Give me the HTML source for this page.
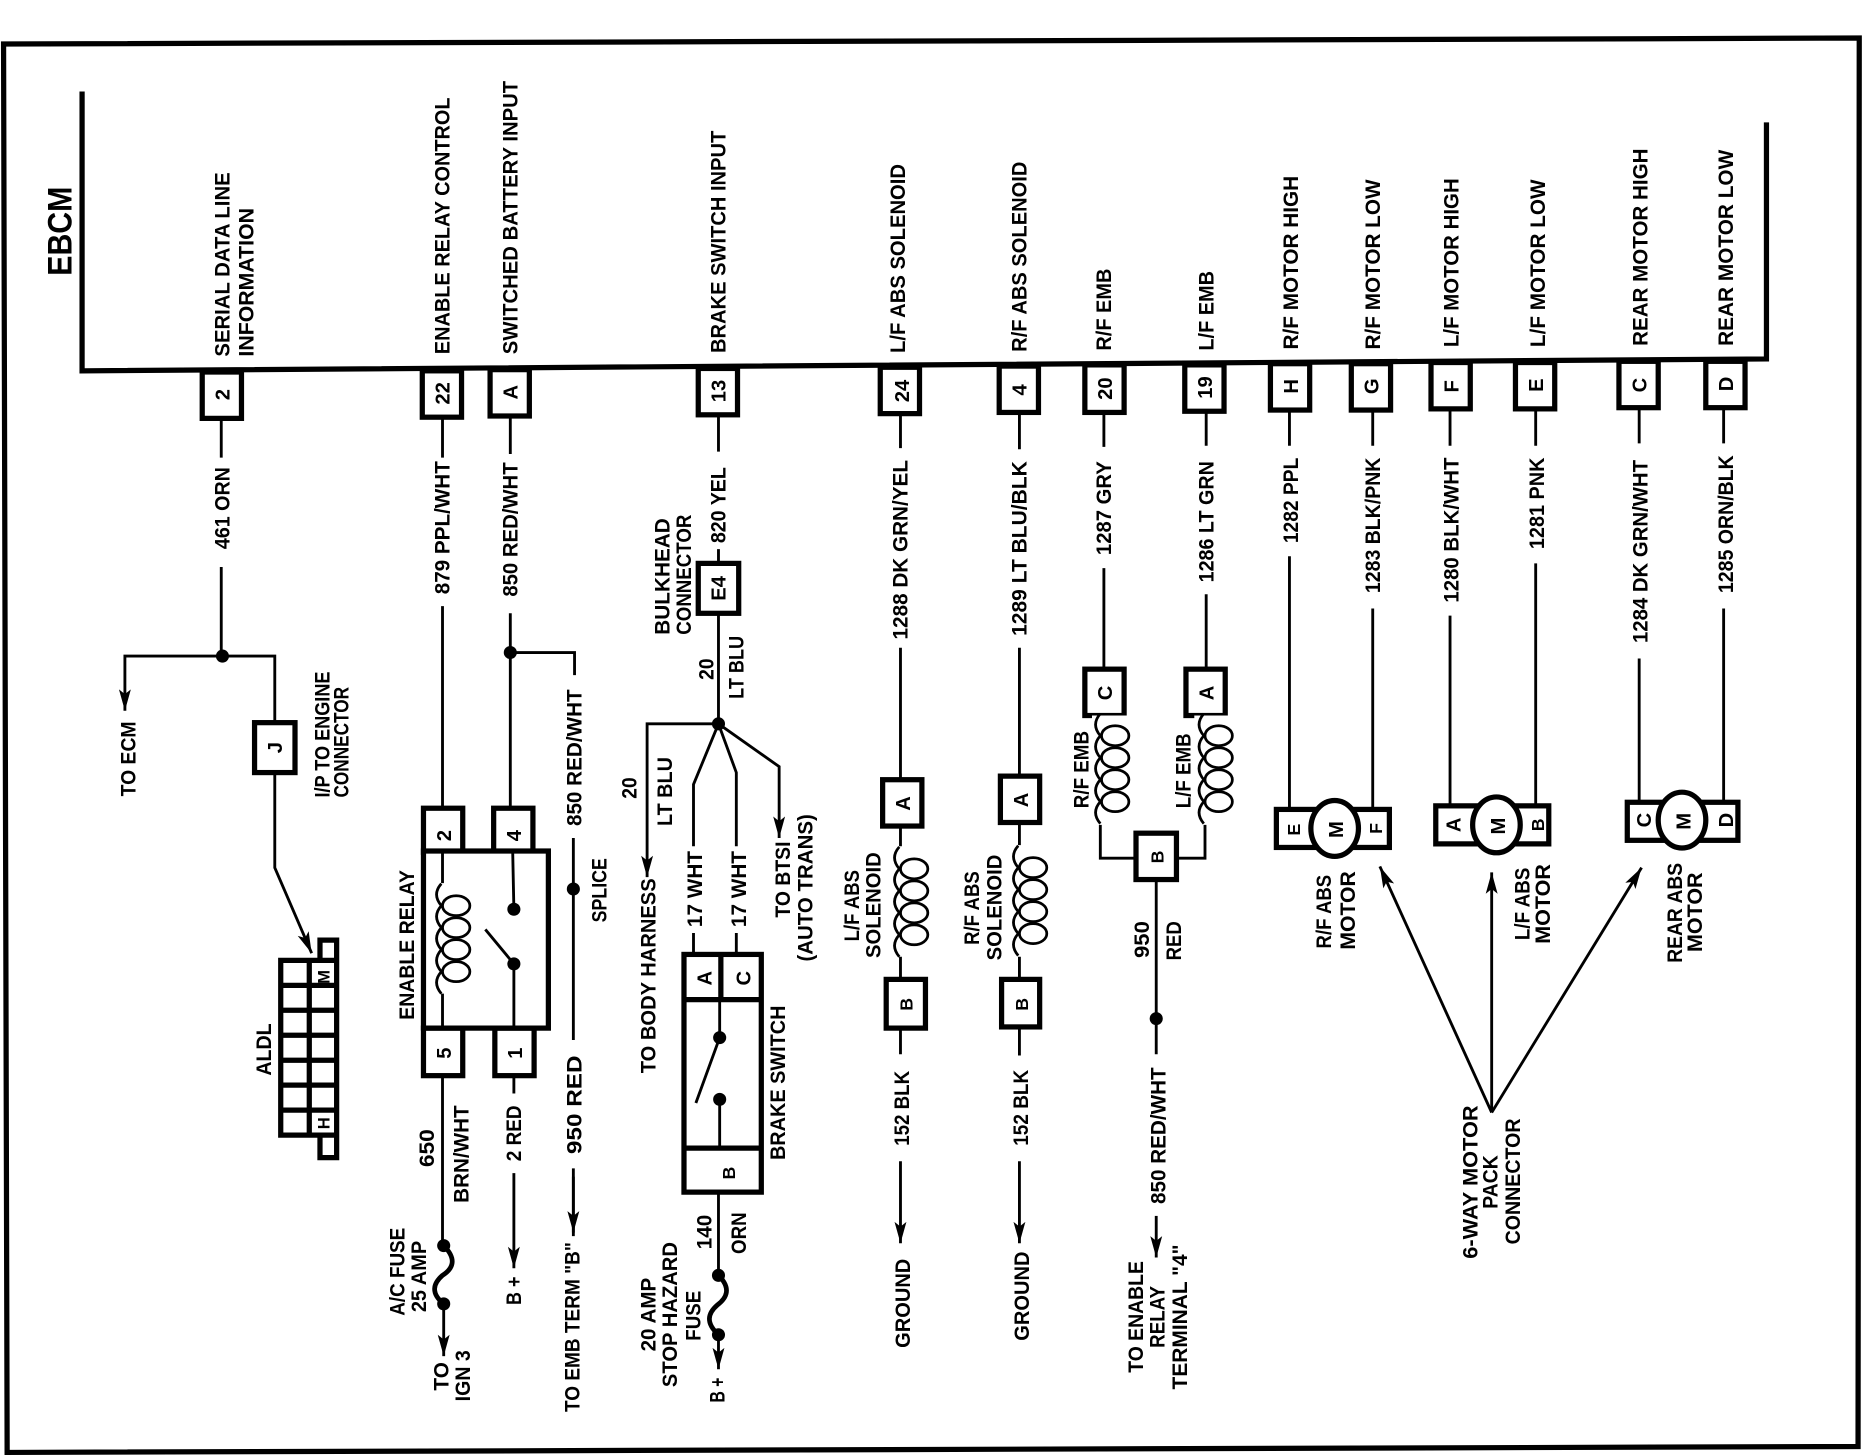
<!DOCTYPE html>
<html><head><meta charset="utf-8"><title>EBCM wiring diagram</title>
<style>
html,body{margin:0;padding:0;background:#fff}
svg{display:block}
text{font-family:"Liberation Sans",sans-serif;font-weight:bold;font-size:18px;fill:#000}
.c{text-anchor:middle;font-size:17px}
.w{fill:none;stroke:#000;stroke-width:2.4}
.t{fill:none;stroke:#000;stroke-width:4.4}
.b{fill:#fff;stroke:#000;stroke-width:4.4}
.a{marker-end:url(#ar)}
</style></head><body>
<svg xmlns="http://www.w3.org/2000/svg" width="1864" height="1456" viewBox="0 0 1567 1225" preserveAspectRatio="none">
<defs>
<marker id="ar" markerUnits="userSpaceOnUse" orient="auto" markerWidth="24" markerHeight="14" refX="20" refY="7" viewBox="0 0 24 14"><path d="M20 7L2 2L6 7L2 12Z" fill="#000"/></marker>
<g id="coil" fill="none" stroke="#000" stroke-width="2.3">
<ellipse cx="12.5" cy="0" rx="11.5" ry="8.4"/><ellipse cx="12.5" cy="18.5" rx="11.5" ry="8.4"/><ellipse cx="12.5" cy="37" rx="11.5" ry="8.4"/><ellipse cx="12.5" cy="55.5" rx="11.5" ry="8.4"/>
<path d="M0-18.5q-8 9 0 18.5q-8 9 0 18.5q-8 9 0 18.5q-8 9 0 18.5q-8 9 0 18.5"/>
</g>
</defs>
<rect width="1567" height="1225" fill="#fff"/>
<path class="t" d="M3 37L1563 32L1562 1217L6 1222Z"/>
<path class="t" d="M69 77V312L1485 302V103"/>
<text transform="translate(60,232)rotate(-90)" textLength="75" lengthAdjust="spacingAndGlyphs" style="font-size:29px">EBCM</text>

<!-- top labels -->
<text transform="translate(193,300)rotate(-90)" textLength="155" lengthAdjust="spacingAndGlyphs">SERIAL DATA LINE</text>
<text transform="translate(213,300)rotate(-90)" textLength="125" lengthAdjust="spacingAndGlyphs">INFORMATION</text>
<text transform="translate(378,298)rotate(-90)" textLength="216" lengthAdjust="spacingAndGlyphs">ENABLE RELAY CONTROL</text>
<text transform="translate(435,298)rotate(-90)" textLength="230" lengthAdjust="spacingAndGlyphs">SWITCHED BATTERY INPUT</text>
<text transform="translate(610,297)rotate(-90)" textLength="187" lengthAdjust="spacingAndGlyphs">BRAKE SWITCH INPUT</text>
<text transform="translate(761,297)rotate(-90)" textLength="159" lengthAdjust="spacingAndGlyphs">L/F ABS SOLENOID</text>
<text transform="translate(863,296)rotate(-90)" textLength="160" lengthAdjust="spacingAndGlyphs">R/F ABS SOLENOID</text>
<text transform="translate(934,295)rotate(-90)" textLength="69" lengthAdjust="spacingAndGlyphs">R/F EMB</text>
<text transform="translate(1020,295)rotate(-90)" textLength="67" lengthAdjust="spacingAndGlyphs">L/F EMB</text>
<text transform="translate(1091,294)rotate(-90)" textLength="146" lengthAdjust="spacingAndGlyphs">R/F MOTOR HIGH</text>
<text transform="translate(1160,294)rotate(-90)" textLength="143" lengthAdjust="spacingAndGlyphs">R/F MOTOR LOW</text>
<text transform="translate(1226,292)rotate(-90)" textLength="142" lengthAdjust="spacingAndGlyphs">L/F MOTOR HIGH</text>
<text transform="translate(1299,292)rotate(-90)" textLength="141" lengthAdjust="spacingAndGlyphs">L/F MOTOR LOW</text>
<text transform="translate(1385,291)rotate(-90)" textLength="166" lengthAdjust="spacingAndGlyphs">REAR MOTOR HIGH</text>
<text transform="translate(1457,291)rotate(-90)" textLength="165" lengthAdjust="spacingAndGlyphs">REAR MOTOR LOW</text>

<!-- top connector boxes -->
<rect class="b" x="170" y="313" width="33" height="39"/><text class="c" transform="translate(193,332)rotate(-90)">2</text>
<rect class="b" x="355" y="312" width="33" height="39"/><text class="c" transform="translate(378,331)rotate(-90)">22</text>
<rect class="b" x="412" y="311" width="33" height="39"/><text class="c" transform="translate(435,330)rotate(-90)">A</text>
<rect class="b" x="587" y="310" width="33" height="39"/><text class="c" transform="translate(610,329)rotate(-90)">13</text>
<rect class="b" x="740" y="309" width="33" height="39"/><text class="c" transform="translate(764,329)rotate(-90)">24</text>
<rect class="b" x="840" y="308" width="33" height="39"/><text class="c" transform="translate(863,328)rotate(-90)">4</text>
<rect class="b" x="912" y="307" width="33" height="40"/><text class="c" transform="translate(935,327)rotate(-90)">20</text>
<rect class="b" x="996" y="307" width="33" height="39"/><text class="c" transform="translate(1019,326)rotate(-90)">19</text>
<rect class="b" x="1068" y="306" width="33" height="39"/><text class="c" transform="translate(1091,325)rotate(-90)">H</text>
<rect class="b" x="1136" y="306" width="33" height="39"/><text class="c" transform="translate(1159,325)rotate(-90)">G</text>
<rect class="b" x="1203" y="305" width="33" height="39"/><text class="c" transform="translate(1226,325)rotate(-90)">F</text>
<rect class="b" x="1274" y="305" width="33" height="39"/><text class="c" transform="translate(1297,324)rotate(-90)">E</text>
<rect class="b" x="1361" y="304" width="33" height="39"/><text class="c" transform="translate(1384,324)rotate(-90)">C</text>
<rect class="b" x="1434" y="304" width="33" height="39"/><text class="c" transform="translate(1457,323)rotate(-90)">D</text>

<!-- column 2: serial data -->
<path class="w" d="M186 352V385M186 477V552"/>
<text transform="translate(193,462)rotate(-90)" textLength="69" lengthAdjust="spacingAndGlyphs">461 ORN</text>
<circle cx="187" cy="552" r="5.5"/>
<path class="w a" d="M231 608V552H105V598"/>
<rect class="b" x="214" y="608" width="34" height="42"/><text class="c" transform="translate(237,629)rotate(-90)">J</text>
<path class="w a" d="M231 650V730L262 802"/>
<text transform="translate(114,670)rotate(-90)" textLength="63" lengthAdjust="spacingAndGlyphs">TO ECM</text>
<text transform="translate(277,671)rotate(-90)" textLength="106" lengthAdjust="spacingAndGlyphs">I/P TO ENGINE</text>
<text transform="translate(293,671)rotate(-90)" textLength="93" lengthAdjust="spacingAndGlyphs">CONNECTOR</text>
<!-- ALDL -->
<path class="t" d="M236 808H283V955H236ZM260 808V955M236 829H283M236 850H283M236 871H283M236 892H283M236 913H283M236 934H283M269 808V791H283V808M269 955V974H283V955"/>
<text class="c" style="font-size:14px" transform="translate(277,822)rotate(-90)">M</text>
<text class="c" style="font-size:14px" transform="translate(277,945)rotate(-90)">H</text>
<text transform="translate(228,905)rotate(-90)" textLength="44" lengthAdjust="spacingAndGlyphs">ALDL</text>

<!-- enable relay -->
<path class="w" d="M372 351V385M372 510V680M429 350V382M429 516V680M429 549H483V568"/>
<circle cx="429" cy="549" r="5.5"/>
<text transform="translate(378,500)rotate(-90)" textLength="112" lengthAdjust="spacingAndGlyphs">879 PPL/WHT</text>
<text transform="translate(435,502)rotate(-90)" textLength="113" lengthAdjust="spacingAndGlyphs">850 RED/WHT</text>
<text transform="translate(489,695)rotate(-90)" textLength="115" lengthAdjust="spacingAndGlyphs">850 RED/WHT</text>
<rect class="b" x="356" y="680" width="33" height="37"/><text class="c" transform="translate(379,703)rotate(-90)">2</text>
<rect class="b" x="415" y="680" width="33" height="37"/><text class="c" transform="translate(438,703)rotate(-90)">4</text>
<rect class="b" x="356" y="865" width="33" height="40"/><text class="c" transform="translate(379,886)rotate(-90)">5</text>
<rect class="b" x="416" y="865" width="33" height="40"/><text class="c" transform="translate(439,886)rotate(-90)">1</text>
<rect class="b" x="356" y="716" width="105" height="149"/>
<path class="w" d="M372 716V743M372 836V865M431 716L432 765M408 782L432 811V865"/>
<use href="#coil" x="371" y="762"/>
<circle cx="432" cy="765" r="5.5"/><circle cx="432" cy="811" r="5.5"/>
<text transform="translate(348,858)rotate(-90)" textLength="126" lengthAdjust="spacingAndGlyphs">ENABLE RELAY</text>
<path class="w" d="M482 705V875M482 983V1040"/>
<path class="w a" d="M482 990V1037"/>
<circle cx="482" cy="748" r="5.5"/>
<text transform="translate(510,776)rotate(-90)" textLength="54" lengthAdjust="spacingAndGlyphs">SPLICE</text>
<text transform="translate(489,971)rotate(-90)" textLength="83" lengthAdjust="spacingAndGlyphs">950 RED</text>
<text transform="translate(487,1188)rotate(-90)" textLength="143" lengthAdjust="spacingAndGlyphs">TO EMB TERM "B"</text>
<path class="w" d="M372 905V1048"/>
<text transform="translate(365,982)rotate(-90)" textLength="32" lengthAdjust="spacingAndGlyphs">650</text>
<text transform="translate(394,1012)rotate(-90)" textLength="82" lengthAdjust="spacingAndGlyphs">BRN/WHT</text>
<circle cx="373" cy="1048" r="5.5"/><circle cx="373" cy="1097" r="5.5"/>
<path d="M373 1048C385 1060 380 1068 372 1073C364 1080 362 1088 373 1097" fill="none" stroke="#000" stroke-width="4"/>
<path class="w a" d="M373 1097V1141"/>
<text transform="translate(340,1107)rotate(-90)" textLength="74" lengthAdjust="spacingAndGlyphs">A/C FUSE</text>
<text transform="translate(358,1104)rotate(-90)" textLength="60" lengthAdjust="spacingAndGlyphs">25 AMP</text>
<text transform="translate(377,1170)rotate(-90)" textLength="24" lengthAdjust="spacingAndGlyphs">TO</text>
<text transform="translate(395,1179)rotate(-90)" textLength="43" lengthAdjust="spacingAndGlyphs">IGN 3</text>
<path class="w" d="M432 905V920"/><path class="w a" d="M432 987V1067"/>
<text transform="translate(438,977)rotate(-90)" textLength="47" lengthAdjust="spacingAndGlyphs">2 RED</text>
<text transform="translate(438,1098)rotate(-90)" textLength="24" lengthAdjust="spacingAndGlyphs">B +</text>

<!-- brake -->
<path class="w" d="M604 349V380M604 462V474M604 516V609"/>
<text transform="translate(610,457)rotate(-90)" textLength="64" lengthAdjust="spacingAndGlyphs">820 YEL</text>
<text transform="translate(563,534)rotate(-90)" textLength="98" lengthAdjust="spacingAndGlyphs">BULKHEAD</text>
<text transform="translate(581,534)rotate(-90)" textLength="101" lengthAdjust="spacingAndGlyphs">CONNECTOR</text>
<rect class="b" x="587" y="474" width="34" height="42"/><text class="c" transform="translate(610,495)rotate(-90)">E4</text>
<text transform="translate(600,572)rotate(-90)" textLength="18" lengthAdjust="spacingAndGlyphs">20</text>
<text transform="translate(625,588)rotate(-90)" textLength="53" lengthAdjust="spacingAndGlyphs">LT BLU</text>
<circle cx="604" cy="609" r="5.5"/>
<path class="w a" d="M604 609H544V738"/>
<path class="w" d="M604 609L583 660V712M583 785V803M604 609L619 650V712M619 785V803"/>
<path class="w a" d="M604 609L655 645V705"/>
<text transform="translate(535,672)rotate(-90)" textLength="18" lengthAdjust="spacingAndGlyphs">20</text>
<text transform="translate(565,695)rotate(-90)" textLength="58" lengthAdjust="spacingAndGlyphs">LT BLU</text>
<text transform="translate(590,780)rotate(-90)" textLength="64" lengthAdjust="spacingAndGlyphs">17 WHT</text>
<text transform="translate(627,780)rotate(-90)" textLength="64" lengthAdjust="spacingAndGlyphs">17 WHT</text>
<text transform="translate(664,772)rotate(-90)" textLength="64" lengthAdjust="spacingAndGlyphs">TO BTSI</text>
<text transform="translate(683,809)rotate(-90)" textLength="124" lengthAdjust="spacingAndGlyphs">(AUTO TRANS)</text>
<text transform="translate(551,903)rotate(-90)" textLength="164" lengthAdjust="spacingAndGlyphs">TO BODY HARNESS</text>
<rect class="b" x="575" y="803" width="65" height="200"/>
<path class="t" d="M575 841H640M575 966H640M606 803V841"/>
<text class="c" transform="translate(598,823)rotate(-90)">A</text>
<text class="c" transform="translate(631,823)rotate(-90)">C</text>
<text class="c" style="font-size:15px" transform="translate(618,987)rotate(-90)">B</text>
<path class="w" d="M605 841V873L585 928M605 925V966"/>
<circle cx="605" cy="873" r="5.5"/><circle cx="605" cy="925" r="5.5"/>
<text transform="translate(660,976)rotate(-90)" textLength="130" lengthAdjust="spacingAndGlyphs">BRAKE SWITCH</text>
<path class="w" d="M604 1003V1073"/>
<text transform="translate(598,1051)rotate(-90)" textLength="29" lengthAdjust="spacingAndGlyphs">140</text>
<text transform="translate(627,1055)rotate(-90)" textLength="35" lengthAdjust="spacingAndGlyphs">ORN</text>
<circle cx="604" cy="1073" r="5.5"/><circle cx="604" cy="1123" r="5.5"/>
<path d="M604 1073C615 1084 611 1092 603 1098C595 1105 593 1113 604 1123" fill="none" stroke="#000" stroke-width="4"/>
<path class="w a" d="M604 1123V1152"/>
<text transform="translate(551,1137)rotate(-90)" textLength="62" lengthAdjust="spacingAndGlyphs">20 AMP</text>
<text transform="translate(569,1167)rotate(-90)" textLength="122" lengthAdjust="spacingAndGlyphs">STOP HAZARD</text>
<text transform="translate(589,1128)rotate(-90)" textLength="42" lengthAdjust="spacingAndGlyphs">FUSE</text>
<text transform="translate(609,1180)rotate(-90)" textLength="21" lengthAdjust="spacingAndGlyphs">B +</text>

<!-- L/F solenoid -->
<path class="w" d="M757 348V377M757 545V656M757 695V712M757 805V824M757 865V887"/>
<text transform="translate(763,538)rotate(-90)" textLength="151" lengthAdjust="spacingAndGlyphs">1288 DK GRN/YEL</text>
<rect class="b" x="742" y="656" width="33" height="39"/><text class="c" transform="translate(765,676)rotate(-90)">A</text>
<use href="#coil" x="756" y="731"/>
<rect class="b" x="745" y="824" width="33" height="41"/><text class="c" style="font-size:15px" transform="translate(767,845)rotate(-90)">B</text>
<text transform="translate(722,792)rotate(-90)" textLength="60" lengthAdjust="spacingAndGlyphs">L/F ABS</text>
<text transform="translate(740,806)rotate(-90)" textLength="89" lengthAdjust="spacingAndGlyphs">SOLENOID</text>
<text transform="translate(764,964)rotate(-90)" textLength="63" lengthAdjust="spacingAndGlyphs">152 BLK</text>
<path class="w a" d="M757 977V1046"/>
<text transform="translate(765,1134)rotate(-90)" textLength="75" lengthAdjust="spacingAndGlyphs">GROUND</text>

<!-- R/F solenoid -->
<path class="w" d="M857 347V378M857 545V653M857 692V711M857 805V824M857 864V888"/>
<text transform="translate(863,535)rotate(-90)" textLength="147" lengthAdjust="spacingAndGlyphs">1289 LT BLU/BLK</text>
<rect class="b" x="841" y="653" width="33" height="39"/><text class="c" transform="translate(864,673)rotate(-90)">A</text>
<use href="#coil" x="856" y="730"/>
<rect class="b" x="842" y="824" width="32" height="40"/><text class="c" style="font-size:15px" transform="translate(864,845)rotate(-90)">B</text>
<text transform="translate(823,795)rotate(-90)" textLength="62" lengthAdjust="spacingAndGlyphs">R/F ABS</text>
<text transform="translate(842,808)rotate(-90)" textLength="89" lengthAdjust="spacingAndGlyphs">SOLENOID</text>
<text transform="translate(864,964)rotate(-90)" textLength="64" lengthAdjust="spacingAndGlyphs">152 BLK</text>
<path class="w a" d="M857 977V1046"/>
<text transform="translate(865,1128)rotate(-90)" textLength="75" lengthAdjust="spacingAndGlyphs">GROUND</text>

<!-- EMB -->
<path class="w" d="M928 347V376M928 478V563M1014 346V375M1014 500V563M925 600V722H955M1013 600V722H989"/>
<text transform="translate(934,467)rotate(-90)" textLength="79" lengthAdjust="spacingAndGlyphs">1287 GRY</text>
<text transform="translate(1020,490)rotate(-90)" textLength="102" lengthAdjust="spacingAndGlyphs">1286 LT GRN</text>
<rect class="b" x="912" y="563" width="33" height="39"/><text class="c" transform="translate(935,583)rotate(-90)">C</text>
<rect class="b" x="997" y="563" width="33" height="39"/><text class="c" transform="translate(1020,583)rotate(-90)">A</text>
<rect x="918" y="602" width="50" height="92" fill="#fff"/>
<rect x="1004" y="602" width="40" height="92" fill="#fff"/>
<use href="#coil" x="925" y="619"/>
<use href="#coil" x="1012" y="619"/>
<rect class="b" x="955" y="701" width="34" height="39"/><text class="c" style="font-size:15px" transform="translate(978,721)rotate(-90)">B</text>
<text transform="translate(915,680)rotate(-90)" textLength="65" lengthAdjust="spacingAndGlyphs">R/F EMB</text>
<text transform="translate(1001,680)rotate(-90)" textLength="63" lengthAdjust="spacingAndGlyphs">L/F EMB</text>
<path class="w" d="M972 740V887"/>
<circle cx="972" cy="857" r="5.5"/>
<text transform="translate(966,806)rotate(-90)" textLength="31" lengthAdjust="spacingAndGlyphs">950</text>
<text transform="translate(993,808)rotate(-90)" textLength="33" lengthAdjust="spacingAndGlyphs">RED</text>
<text transform="translate(980,1013)rotate(-90)" textLength="115" lengthAdjust="spacingAndGlyphs">850 RED/WHT</text>
<path class="w a" d="M972 1023V1058"/>
<text transform="translate(961,1155)rotate(-90)" textLength="94" lengthAdjust="spacingAndGlyphs">TO ENABLE</text>
<text transform="translate(979,1134)rotate(-90)" textLength="52" lengthAdjust="spacingAndGlyphs">RELAY</text>
<text transform="translate(998,1169)rotate(-90)" textLength="122" lengthAdjust="spacingAndGlyphs">TERMINAL "4"</text>

<!-- R/F motor -->
<path class="w" d="M1084 345V375M1084 468V680M1154 345V375M1154 512V680"/>
<text transform="translate(1091,457)rotate(-90)" textLength="72" lengthAdjust="spacingAndGlyphs">1282 PPL</text>
<text transform="translate(1160,499)rotate(-90)" textLength="114" lengthAdjust="spacingAndGlyphs">1283 BLK/PNK</text>
<rect class="b" x="1073" y="681" width="95" height="32"/>
<ellipse cx="1122" cy="697" rx="20" ry="23.5" fill="#fff" stroke="#000" stroke-width="4.4"/>
<text class="c" style="font-size:15px" transform="translate(1093,698)rotate(-90)">E</text>
<text class="c" transform="translate(1129,698)rotate(-90)">M</text>
<text class="c" style="font-size:15px" transform="translate(1162,697)rotate(-90)">F</text>
<text transform="translate(1119,798)rotate(-90)" textLength="62" lengthAdjust="spacingAndGlyphs">R/F ABS</text>
<text transform="translate(1139,799)rotate(-90)" textLength="66" lengthAdjust="spacingAndGlyphs">MOTOR</text>

<!-- L/F motor -->
<path class="w" d="M1219 344V375M1219 518V678M1291 344V375M1291 474V678"/>
<text transform="translate(1226,507)rotate(-90)" textLength="122" lengthAdjust="spacingAndGlyphs">1280 BLK/WHT</text>
<text transform="translate(1298,462)rotate(-90)" textLength="77" lengthAdjust="spacingAndGlyphs">1281 PNK</text>
<rect class="b" x="1207" y="678" width="95" height="32"/>
<ellipse cx="1258" cy="694" rx="20" ry="23.5" fill="#fff" stroke="#000" stroke-width="4.4"/>
<text class="c" transform="translate(1228,694)rotate(-90)">A</text>
<text class="c" transform="translate(1265,695)rotate(-90)">M</text>
<text class="c" style="font-size:15px" transform="translate(1298,694)rotate(-90)">B</text>
<text transform="translate(1286,791)rotate(-90)" textLength="61" lengthAdjust="spacingAndGlyphs">L/F ABS</text>
<text transform="translate(1303,794)rotate(-90)" textLength="67" lengthAdjust="spacingAndGlyphs">MOTOR</text>

<!-- Rear motor -->
<path class="w" d="M1378 343V373M1378 554V675M1449 343V373M1449 512V675"/>
<text transform="translate(1385,541)rotate(-90)" textLength="154" lengthAdjust="spacingAndGlyphs">1284 DK GRN/WHT</text>
<text transform="translate(1457,499)rotate(-90)" textLength="116" lengthAdjust="spacingAndGlyphs">1285 ORN/BLK</text>
<rect class="b" x="1368" y="675" width="93" height="32"/>
<ellipse cx="1414" cy="690" rx="20" ry="23.5" fill="#fff" stroke="#000" stroke-width="4.4"/>
<text class="c" transform="translate(1388,690)rotate(-90)">C</text>
<text class="c" transform="translate(1421,691)rotate(-90)">M</text>
<text class="c" transform="translate(1457,690)rotate(-90)">D</text>
<text transform="translate(1414,810)rotate(-90)" textLength="84" lengthAdjust="spacingAndGlyphs">REAR ABS</text>
<text transform="translate(1431,801)rotate(-90)" textLength="67" lengthAdjust="spacingAndGlyphs">MOTOR</text>

<!-- 6-way -->
<path class="w a" d="M1254 936L1160 729"/>
<path class="w a" d="M1254 936V734"/>
<path class="w a" d="M1254 936L1380 730"/>
<text transform="translate(1242,1059)rotate(-90)" textLength="129" lengthAdjust="spacingAndGlyphs">6-WAY MOTOR</text>
<text transform="translate(1259,1017)rotate(-90)" textLength="45" lengthAdjust="spacingAndGlyphs">PACK</text>
<text transform="translate(1278,1047)rotate(-90)" textLength="106" lengthAdjust="spacingAndGlyphs">CONNECTOR</text>
</svg>
</body></html>
